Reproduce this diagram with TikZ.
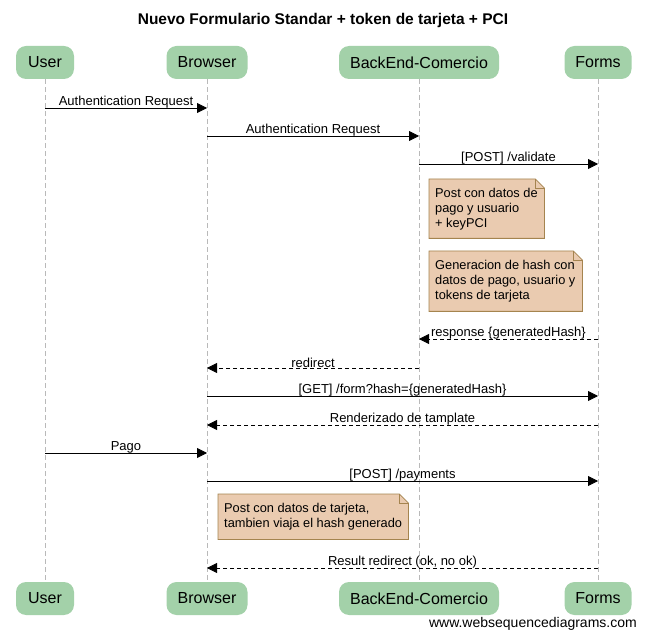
\documentclass[tikz,border=0pt]{standalone}
\usepackage{fontspec}
\setmainfont{Liberation Sans}
\usetikzlibrary{arrows.meta,backgrounds}
\definecolor{actorgreen}{HTML}{A3D1A9}
\definecolor{notefill}{HTML}{EACBB0}
\definecolor{noteline}{HTML}{A5844F}
\tikzset{
    actor/.style={fill=actorgreen,rounded corners=10pt,minimum height=33pt,inner sep=0pt,font=\fontsize{16}{18}\selectfont},
    msg/.style={-{Triangle[length=10pt,width=10pt]},line width=0.8pt},
    reply/.style={msg,dashed,dash pattern=on 4pt off 3pt},
    lbl/.style={above,inner sep=0pt,yshift=-0.5pt,font=\fontsize{13}{15}\selectfont},
    life/.style={gray!55,line width=0.7pt,dash pattern=on 5pt off 3pt},
    notebox/.style={anchor=north west,inner sep=0pt},
    notetext/.style={anchor=west,align=left,inner sep=0pt,font=\fontsize{12.8}{15}\selectfont},
}
\begin{document}
\begin{tikzpicture}[x=1pt,y=-1pt]
    \useasboundingbox (0,0) rectangle (646,639);
    \node[font=\bfseries\fontsize{15.5}{18}\selectfont] (title) at (323,20) {Nuevo Formulario Standar + token de tarjeta + PCI};
    % participants, top and bottom
    \foreach \n/\x/\w/\t in {User/45/58/User,Browser/207/81/Browser,BackEnd/419/160/BackEnd-Comercio,Forms/598/67/Forms}{
        \node[actor,minimum width=\w pt] (\n) at (\x,62.5) {\t};
        \node[actor,minimum width=\w pt] (\n2) at (\x,598.5) {\t};
    }
    \begin{scope}[on background layer]
        \foreach \n in {User,Browser,BackEnd,Forms}
            \draw[life] (\n.south) -- (\n2.north);
    \end{scope}
    % messages
    \foreach \y/\a/\b/\s/\t in {
        108/User/Browser/msg/{Authentication Request},
        136/Browser/BackEnd/msg/{Authentication Request},
        164/BackEnd/Forms/msg/{[POST] /validate},
        339/Forms/BackEnd/reply/{response \{generatedHash\}},
        368/BackEnd/Browser/reply/{redirect},
        396/Browser/Forms/msg/{[GET] /form?hash=\{generatedHash\}},
        425/Forms/Browser/reply/{Renderizado de tamplate},
        453/User/Browser/msg/{Pago},
        481/Browser/Forms/msg/{[POST] /payments},
        568/Forms/Browser/reply/{Result redirect (ok, no ok)}}
        \draw[\s] (\a |- 0,\y) -- node[lbl]{\t} (\b |- 0,\y);
    % notes
    \node[notebox,minimum width=115pt,minimum height=59pt] (n1) at (429,179) {};
    \node[notebox,minimum width=153pt,minimum height=60pt] (n2) at (429,251) {};
    \node[notebox,minimum width=190pt,minimum height=45pt] (n3) at (218,494) {};
    \begin{scope}[on background layer]
        \foreach \n in {n1,n2,n3}{
            \draw[noteline,fill=notefill,line width=0.8pt] (\n.north west) -- ([xshift=-9pt]\n.north east) -- ([yshift=-9pt]\n.north east) -- (\n.south east) -- (\n.south west) -- cycle;
            \draw[noteline,line width=0.8pt] ([xshift=-9pt]\n.north east) -- ([xshift=-9pt,yshift=-9pt]\n.north east) -- ([yshift=-9pt]\n.north east);
        }
    \end{scope}
    \node[notetext] (n1t) at ([xshift=6pt]n1.west) {Post con datos de\\pago y usuario\\+ keyPCI};
    \node[notetext] (n2t) at ([xshift=6pt]n2.west) {Generacion de hash con\\datos de pago, usuario y\\tokens de tarjeta};
    \node[notetext] (n3t) at ([xshift=6pt]n3.west) {Post con datos de tarjeta,\\tambien viaja el hash generado};
    \node[anchor=east,inner sep=0pt,font=\fontsize{14}{16}\selectfont] (site) at (637,624) {www.websequencediagrams.com};
\end{tikzpicture}
\end{document}
